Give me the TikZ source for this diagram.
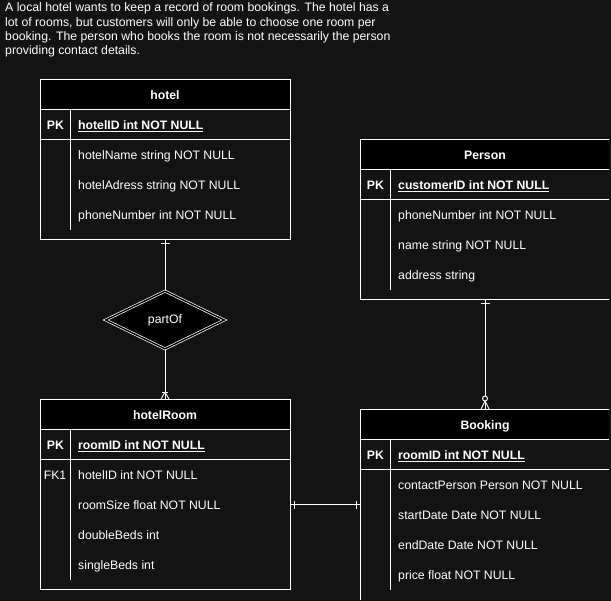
\documentclass[tikz,border=0pt]{standalone}
\usepackage{fontspec}
\setmainfont{Liberation Sans}
\usetikzlibrary{shapes.geometric}
\definecolor{bg}{HTML}{131313}
\newcommand\fs{\fontsize{12.25}{14.4}\selectfont}
\begin{document}
\begin{tikzpicture}[x=1pt,y=-1pt,
  box/.style={draw=white, line width=1pt, minimum width=250pt, inner sep=0pt, outer sep=0pt, anchor=north west},
  hdr/.style={draw=white, fill=black, line width=1pt, minimum width=250pt, minimum height=30pt, inner sep=0pt, outer sep=0pt, anchor=north west, text=white, font=\bfseries\fs, text height=8.6pt, text depth=0pt},
  fld/.style={text=white, inner sep=0pt, anchor=base west, font=\fs},
  keyf/.style={text=white, inner sep=0pt, anchor=base, font=\fs},
  title/.style={text=white, inner sep=0pt, anchor=base west, font=\fs},
  rel/.style={draw=white, line width=1pt},
  sep/.style={draw=white, line width=1pt},
]
\useasboundingbox (0,0) rectangle (611,601);
\fill[bg] (0,0) rectangle (611,601);
\clip (0,0) rectangle (609.0,599.0);

% description
\node[title] (t1) at (5,11.8) {A local hotel wants to keep a record of room bookings. The hotel has a};
\node[title] (t2) at (5,26.2) {lot of rooms, but customers will only be able to choose one room per};
\node[title] (t3) at (5,40.6) {booking. The person who books the room is not necessarily the person};
\node[title] (t4) at (5,55.0) {providing contact details.};

% hotel
\node[box, minimum height=160pt] (hotel) at (40,80) {};
\node[hdr] (hotelH) at (hotel.north west) {hotel};
\draw[sep] (40,140) -- (290,140);
\draw[sep] (70,110) -- (70,230);
\node[keyf, font=\bfseries\fs] (hotelPK) at (55.5,129.5) {PK};
\node[fld, font=\bfseries\fs] (hotelF0) at (78,129.5) {\underline{hotelID int NOT NULL}};
\node[fld] (hotelF1) at (78,159.5) {hotelName string NOT NULL};
\node[fld] (hotelF2) at (78,189.5) {hotelAdress string NOT NULL};
\node[fld] (hotelF3) at (78,219.5) {phoneNumber int NOT NULL};

% hotelRoom
\node[box, minimum height=190pt] (hotelRoom) at (40,400) {};
\node[hdr] (hotelRoomH) at (hotelRoom.north west) {hotelRoom};
\draw[sep] (40,460) -- (290,460);
\draw[sep] (70,430) -- (70,580);
\node[keyf, font=\bfseries\fs] (roomPK) at (55.5,449.5) {PK};
\node[fld, font=\bfseries\fs] (roomF0) at (78,449.5) {\underline{roomID int NOT NULL}};
\node[keyf] (roomFK) at (55,479.5) {FK1};
\node[fld] (roomF1) at (78,479.5) {hotelID int NOT NULL};
\node[fld] (roomF2) at (78,509.5) {roomSize float NOT NULL};
\node[fld] (roomF3) at (78,539.5) {doubleBeds int};
\node[fld] (roomF4) at (78,569.5) {singleBeds int};

% Person
\node[box, minimum height=160pt] (Person) at (360,140) {};
\node[hdr] (PersonH) at (Person.north west) {Person};
\draw[sep] (360,200) -- (610,200);
\draw[sep] (390,170) -- (390,290);
\node[keyf, font=\bfseries\fs] (personPK) at (375.5,189.5) {PK};
\node[fld, font=\bfseries\fs] (personF0) at (398,189.5) {\underline{customerID int NOT NULL}};
\node[fld] (personF1) at (398,219.5) {phoneNumber int NOT NULL};
\node[fld] (personF2) at (398,249.5) {name string NOT NULL};
\node[fld] (personF3) at (398,279.5) {address string};

% Booking
\node[box, minimum height=190pt] (Booking) at (360,410) {};
\node[hdr] (BookingH) at (Booking.north west) {Booking};
\draw[sep] (360,470) -- (610,470);
\draw[sep] (390,440) -- (390,590);
\node[keyf, font=\bfseries\fs] (bookPK) at (375.5,459.5) {PK};
\node[fld, font=\bfseries\fs] (bookF0) at (398,459.5) {\underline{roomID int NOT NULL}};
\node[fld] (bookF1) at (398,489.5) {contactPerson Person NOT NULL};
\node[fld] (bookF2) at (398,519.5) {startDate Date NOT NULL};
\node[fld] (bookF3) at (398,549.5) {endDate Date NOT NULL};
\node[fld] (bookF4) at (398,579.5) {price float NOT NULL};

% partOf relation
\node[diamond, draw=white, fill=black, double=black, double distance=1.4pt, line width=0.7pt,
      minimum width=119pt, minimum height=58pt, inner sep=0pt, text=white, font=\fs] (partOf) at (165,320) {partOf};

% connectors
\draw[rel] (hotel.south) -- (partOf.north);
\draw[rel] (partOf.south) -- (hotelRoom.north);
\draw[rel] ([yshift=-4pt]hotel.south) ++(-4.5,0) -- ++(9,0);
\draw[rel, line width=0.9pt] ([yshift=8pt]hotelRoom.north) -- ++(-4.5,8);
\draw[rel, line width=0.9pt] ([yshift=8pt]hotelRoom.north) -- ++(4.5,8);
\draw[rel, line width=0.9pt] ([yshift=7.5pt]hotelRoom.north) ++(-3,0) -- ++(6,0);

\draw[rel] (Person.south) -- (Booking.north);
\draw[rel] ([yshift=-4pt]Person.south) ++(-4.5,0) -- ++(9,0);
\draw[rel, line width=0.9pt] ([yshift=9pt]Booking.north) -- ++(-4.5,9);
\draw[rel, line width=0.9pt] ([yshift=9pt]Booking.north) -- ++(4.5,9);
\draw[rel, line width=0.9pt, fill=bg] ([yshift=11.5pt]Booking.north) circle (2.5pt);

\draw[rel] ([yshift=-10pt]hotelRoom.east) -- ([yshift=-10pt]hotelRoom.east -| Booking.west);
\draw[rel] ([yshift=-10pt,xshift=4pt]hotelRoom.east) ++(0,-4) -- ++(0,8);
\draw[rel] ([yshift=-10pt]hotelRoom.east -| Booking.west) ++(-4,-4) -- ++(0,8);
\end{tikzpicture}
\end{document}
